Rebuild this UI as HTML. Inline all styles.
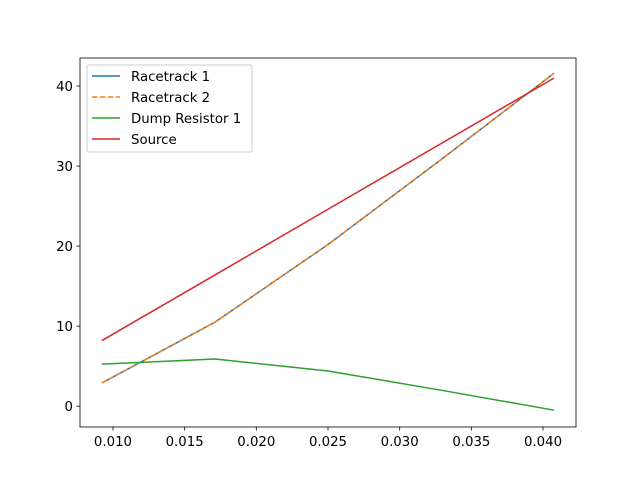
<!DOCTYPE html>
<html><head><meta charset="utf-8"><style>body{margin:0;background:#fff}svg{display:block;font-family:"DejaVu Sans","Liberation Sans",sans-serif}</style></head>
<body>
<svg id="chart" width="640" height="480"></svg>
<script>
const xValues=[0.00923,0.01712,0.02500,0.03288,0.04077];
const racetrack1=[2.9,10.5,20.2,30.8,41.6];
const racetrack2=[2.9,10.5,20.2,30.8,41.6];
const dump1=[5.25,5.9,4.4,2.0,-0.5];
const source=[8.2,16.4,24.6,32.8,41.0];
const xTicks=[0.010,0.015,0.020,0.025,0.030,0.035,0.040];
const yTicks=[0,10,20,30,40];
const seriesNames=["Racetrack 1","Racetrack 2","Dump Resistor 1","Source"];
const NS="http://www.w3.org/2000/svg";
const svg=document.getElementById('chart');
const L=80,R=576,T=58,B=427,xmin=0.00770,xmax=0.04230,ymin=-2.6,ymax=43.5;
const sx=v=>L+(v-xmin)/(xmax-xmin)*(R-L);
const sy=v=>B-(v-ymin)/(ymax-ymin)*(B-T);
function el(t,a){const e=document.createElementNS(NS,t);for(const k in a)e.setAttribute(k,a[k]);svg.appendChild(e);return e;}
const frame=el('rect',{x:L,y:T,width:R-L,height:B-T,fill:'none',stroke:'#000','stroke-width':0.8});


xTicks.forEach(v=>{const x=sx(v);
 const t=el('line',{x1:x,x2:x,y1:B,y2:B+3.5,stroke:'#000','stroke-width':0.8});
 
 
 const l=el('text',{x:x,y:B+19,'font-size':13.3,'text-anchor':'middle'});l.textContent=v.toFixed(3);
 
 });
yTicks.forEach(v=>{const y=sy(v);
 const t=el('line',{x1:L-3.5,x2:L,y1:y,y2:y,stroke:'#000','stroke-width':0.8});
 
 
 const l=el('text',{x:L-7,y:y+5,'font-size':13.3,'text-anchor':'end'});l.textContent=v;
 
 });
const series=[[racetrack1,'#1f77b4',null],[racetrack2,'#ff7f0e','5.5,2.4'],[dump1,'#2ca02c',null],[source,'#d62728',null]];
series.forEach((s,i)=>{const p=el('polyline',{points:xValues.map((x,j)=>sx(x)+','+sy(s[0][j])).join(' '),fill:'none',stroke:s[1],'stroke-width':1.5});
 if(s[2])p.setAttribute('stroke-dasharray',s[2]);
 
 });
const lg=el('rect',{x:87,y:65,width:165,height:87,fill:'#fff','fill-opacity':0.8,stroke:'#ccc',rx:2});


series.forEach((s,i)=>{const y=76+i*21;
 const ln=el('line',{x1:92,x2:120,y1:y,y2:y,stroke:s[1],'stroke-width':1.5});
 if(s[2])ln.setAttribute('stroke-dasharray',s[2]);
 
 
 const t=el('text',{x:131,y:y+5,'font-size':13.3});t.textContent=seriesNames[i];
 
 });
</script>
</body></html>
